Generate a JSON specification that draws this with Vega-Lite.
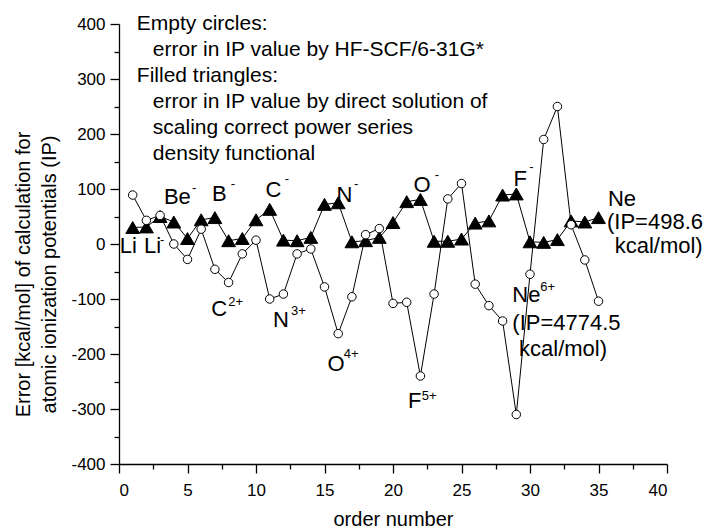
{
  "$schema": "https://vega.github.io/schema/vega-lite/v6.json",
  "width": 548,
  "height": 440,
  "autosize": "none",
  "padding": {"left": 119, "top": 24, "right": 45, "bottom": 67},
  "background": "white",
  "config": {
    "view": {"stroke": null},
    "font": "Liberation Sans",
    "axis": {"grid": false, "domainColor": "black", "tickColor": "black", "labelColor": "black", "titleColor": "black", "labelFont": "Liberation Sans", "titleFont": "Liberation Sans", "titleFontWeight": "normal", "labelFontSize": 17, "titleFontSize": 20, "domainWidth": 1.3, "tickWidth": 1.3}
  },
  "datasets": {
    "pts": [
      {"n": 1, "hf": 89, "dft": 30},
      {"n": 2, "hf": 43, "dft": 31},
      {"n": 3, "hf": 52, "dft": 50},
      {"n": 4, "hf": 0, "dft": 40},
      {"n": 5, "hf": -28, "dft": 10},
      {"n": 6, "hf": 27, "dft": 44},
      {"n": 7, "hf": -46, "dft": 48},
      {"n": 8, "hf": -70, "dft": 6},
      {"n": 9, "hf": -18, "dft": 10},
      {"n": 10, "hf": 7, "dft": 44},
      {"n": 11, "hf": -100, "dft": 63},
      {"n": 12, "hf": -91, "dft": 7},
      {"n": 13, "hf": -18, "dft": 6},
      {"n": 14, "hf": -9, "dft": 12},
      {"n": 15, "hf": -78, "dft": 72},
      {"n": 16, "hf": -163, "dft": 75},
      {"n": 17, "hf": -96, "dft": 4},
      {"n": 18, "hf": 17, "dft": 6},
      {"n": 19, "hf": 28, "dft": 12},
      {"n": 20, "hf": -108, "dft": 39},
      {"n": 21, "hf": -106, "dft": 77},
      {"n": 22, "hf": -240, "dft": 81},
      {"n": 23, "hf": -91, "dft": 5},
      {"n": 24, "hf": 82, "dft": 5},
      {"n": 25, "hf": 110, "dft": 9},
      {"n": 26, "hf": -73, "dft": 38},
      {"n": 27, "hf": -112, "dft": 42},
      {"n": 28, "hf": -140, "dft": 89},
      {"n": 29, "hf": -310, "dft": 91},
      {"n": 30, "hf": -55, "dft": 4},
      {"n": 31, "hf": 190, "dft": 3},
      {"n": 32, "hf": 250, "dft": 8},
      {"n": 33, "hf": 35, "dft": 42},
      {"n": 34, "hf": -29, "dft": 40},
      {"n": 35, "hf": -104, "dft": 48}
    ],
    "labels": [
      {"x": 0.05, "y": -3, "t": "Li"},
      {"x": 1.82, "y": -3, "t": "Li"},
      {"x": 3.28, "y": 85.6, "t": "Be"},
      {"x": 6.79, "y": 91.5, "t": "B"},
      {"x": 10.69, "y": 98, "t": "C"},
      {"x": 15.87, "y": 88.7, "t": "N"},
      {"x": 21.5, "y": 108, "t": "O"},
      {"x": 28.8, "y": 118, "t": "F"},
      {"x": 6.74, "y": -119, "t": "C"},
      {"x": 11.24, "y": -138.5, "t": "N"},
      {"x": 15.21, "y": -218.5, "t": "O"},
      {"x": 21.1, "y": -286, "t": "F"},
      {"x": 28.71, "y": -92, "t": "Ne"},
      {"x": 28.71, "y": -143.5, "t": "(IP=4774.5"},
      {"x": 29.2, "y": -191, "t": "kcal/mol)"},
      {"x": 35.69, "y": 82.4, "t": "Ne"},
      {"x": 35.62, "y": 40, "t": "(IP=498.6"},
      {"x": 36.18, "y": -4, "t": "kcal/mol)"}
    ],
    "sups": [
      {"x": 3.0, "y": 8, "t": "-"},
      {"x": 5.33, "y": 101, "t": "-"},
      {"x": 8.15, "y": 109, "t": "-"},
      {"x": 12.1, "y": 117.6, "t": "-"},
      {"x": 17.15, "y": 110, "t": "-"},
      {"x": 23.05, "y": 125.5, "t": "-"},
      {"x": 29.95, "y": 139.5, "t": "-"},
      {"x": 7.98, "y": -105.5, "t": "2+"},
      {"x": 12.55, "y": -122, "t": "3+"},
      {"x": 16.4, "y": -200, "t": "4+"},
      {"x": 22.1, "y": -276, "t": "5+"},
      {"x": 30.75, "y": -77.6, "t": "6+"}
    ],
    "legend": [
      {"x": 1.3, "y": 400, "t": "Empty circles:"},
      {"x": 2.47, "y": 352.7, "t": "error in IP value by HF-SCF/6-31G*"},
      {"x": 1.3, "y": 305.5, "t": "Filled triangles:"},
      {"x": 2.47, "y": 258, "t": "error in IP value by direct solution of"},
      {"x": 2.47, "y": 211, "t": "scaling correct power series"},
      {"x": 2.47, "y": 163.6, "t": "density functional"}
    ]
  },
  "resolve": {"axis": {"x": "independent", "y": "independent"}},
  "layer": [
    {
      "data": {"name": "pts"},
      "mark": {"type": "line", "color": "black", "strokeWidth": 1},
      "encoding": {
        "x": {"field": "n", "type": "quantitative", "scale": {"domain": [0, 40], "nice": false, "zero": false},
          "axis": {"orient": "bottom", "values": [0, 5, 10, 15, 20, 25, 30, 35, 40], "tickSize": 9, "labelPadding": 9, "title": "order number", "titleBaseline": "alphabetic", "titleY": 61}},
        "y": {"field": "dft", "type": "quantitative", "scale": {"domain": [-400, 400], "nice": false, "zero": false},
          "axis": {"orient": "left", "values": [-400, -300, -200, -100, 0, 100, 200, 300, 400], "tickSize": 9, "labelPadding": 5, "labelExpr": "'' + datum.value", "title": ["Error [kcal/mol] of calculation for", "atomic ionization potentials (IP)"], "titleLineHeight": 26, "titleX": -86, "titleY": 250}}
      }
    },
    {
      "data": {"name": "pts"},
      "mark": {"type": "point", "shape": "triangle-up", "filled": true, "color": "black", "size": 190, "stroke": "black", "strokeWidth": 1, "opacity": 1},
      "encoding": {
        "x": {"field": "n", "type": "quantitative",
          "axis": {"orient": "bottom", "values": [2.5, 7.5, 12.5, 17.5, 22.5, 27.5, 32.5, 37.5], "tickSize": 5, "labels": false, "domain": false, "title": null}},
        "y": {"field": "dft", "type": "quantitative",
          "axis": {"orient": "left", "values": [-350, -250, -150, -50, 50, 150, 250, 350], "tickSize": 5, "labels": false, "domain": false, "title": null}}
      }
    },
    {
      "data": {"name": "pts"},
      "mark": {"type": "line", "color": "black", "strokeWidth": 1},
      "encoding": {
        "x": {"field": "n", "type": "quantitative", "axis": null},
        "y": {"field": "hf", "type": "quantitative", "axis": null}
      }
    },
    {
      "data": {"name": "pts"},
      "mark": {"type": "point", "shape": "circle", "filled": false, "fill": "white", "stroke": "black", "strokeWidth": 1, "size": 72, "opacity": 1},
      "encoding": {
        "x": {"field": "n", "type": "quantitative", "axis": null},
        "y": {"field": "hf", "type": "quantitative", "axis": null}
      }
    },
    {
      "data": {"name": "labels"},
      "mark": {"type": "text", "align": "left", "baseline": "middle", "fontSize": 22, "font": "Liberation Sans", "color": "black"},
      "encoding": {
        "x": {"field": "x", "type": "quantitative", "axis": null},
        "y": {"field": "y", "type": "quantitative", "axis": null},
        "text": {"field": "t"}
      }
    },
    {
      "data": {"name": "sups"},
      "mark": {"type": "text", "align": "left", "baseline": "middle", "fontSize": 13, "font": "Liberation Sans", "color": "black"},
      "encoding": {
        "x": {"field": "x", "type": "quantitative", "axis": null},
        "y": {"field": "y", "type": "quantitative", "axis": null},
        "text": {"field": "t"}
      }
    },
    {
      "data": {"name": "legend"},
      "mark": {"type": "text", "align": "left", "baseline": "middle", "fontSize": 21, "font": "Liberation Sans", "color": "black"},
      "encoding": {
        "x": {"field": "x", "type": "quantitative", "axis": null},
        "y": {"field": "y", "type": "quantitative", "axis": null},
        "text": {"field": "t"}
      }
    }
  ]
}
